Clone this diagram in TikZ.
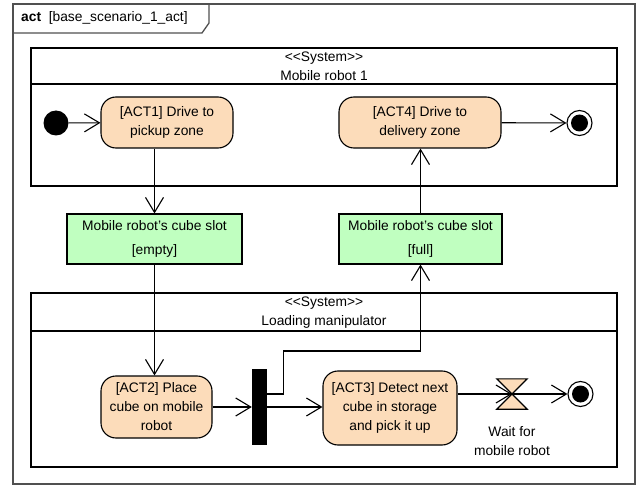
\documentclass[tikz,border=0pt]{standalone}
\usepackage{fontspec}
\setmainfont{Liberation Sans}
\usetikzlibrary{arrows.meta,calc}
\definecolor{peach}{RGB}{252,220,186}
\definecolor{objgreen}{RGB}{192,255,192}
\definecolor{framegray}{RGB}{80,80,80}
\begin{document}
\begin{tikzpicture}[x=1pt,y=-1pt,
  every node/.style={font=\fontsize{13.8}{19}\selectfont},
  action/.style={draw,line width=1.1pt,fill=peach,rounded corners=15pt,align=center,inner sep=0pt},
  objbox/.style={draw,line width=1.1pt,fill=objgreen,align=center,inner sep=0pt,minimum width=175pt,minimum height=50pt},
  partbox/.style={draw,line width=2.2pt},
  arr/.style={line width=1.1pt,-{Straight Barb[length=15pt,width=18pt,line width=1.1pt]}},
  initnode/.style={circle,fill=black,minimum size=25pt,inner sep=0pt},
  finalnode/.style={circle,draw,line width=1.1pt,fill=white,minimum size=25pt,inner sep=0pt,
     path picture={\fill[black] (path picture bounding box.center) circle[radius=8.5pt];}},
  barnode/.style={fill=black,minimum width=15pt,minimum height=76pt,inner sep=0pt},
  waitnode/.style={minimum width=30pt,minimum height=30pt,inner sep=0pt},
  plaintext/.style={align=center,inner sep=0pt}
]
\useasboundingbox (0,0) rectangle (641,487);
\fill[white] (0,0) rectangle (641,487);
% outer frame
\draw[framegray,line width=1.3pt] (13,4) rectangle (635,484);
\draw[framegray,line width=1.3pt] (13,33) -- (202,33) -- (209,23) -- (209,4);
\node[anchor=west,inner sep=0pt] (title) at (21,18) {\textbf{act}\ \ [base\_scenario\_1\_act]};

% partition: Mobile robot 1
\draw[partbox] (31,48) rectangle (617,186);
\draw[partbox] (31,84) -- (617,84);
\node[plaintext] (sys1) at (324,66) {<{}<System>{}>\\Mobile robot 1};

% partition: Loading manipulator
\draw[partbox] (31,293) rectangle (617,467);
\draw[partbox] (31,331) -- (617,331);
\node[plaintext] (sys2) at (324,313) {<{}<System>{}>\\Loading manipulator};

% nodes
\node[initnode] (init) at (56,123) {};
\node[action,minimum width=132pt,minimum height=51pt] (act1) at (167,122.5) {[ACT1] Drive to\\pickup zone};
\node[action,minimum width=162pt,minimum height=51pt] (act4) at (420,122.5) {[ACT4] Drive to\\delivery zone};
\node[finalnode] (final1) at (579.5,123) {};

\node[objbox] (empty) at (154.5,239) {Mobile robot's cube slot\\[5pt][empty]};
\node[objbox,minimum width=163pt] (full) at (420.5,239) {Mobile robot's cube slot\\[5pt][full]};

\node[action,minimum width=111pt,minimum height=62pt] (act2) at (156.5,407) {[ACT2] Place\\cube on mobile\\robot};
\node[barnode] (bar) at (259.5,407) {};
\node[action,minimum width=134pt,minimum height=74pt] (act3) at (390,408) {[ACT3] Detect next\\cube in storage\\and pick it up};
\node[waitnode] (wait) at (512,394) {};
\draw[line width=1.1pt,fill=peach] (wait.north west) -- (wait.north east) -- (wait.south west) -- (wait.south east) -- cycle;
\node[plaintext] (waitlabel) at (512,441) {Wait for\\mobile robot};
\node[finalnode] (final2) at (580.5,394) {};

% connectors
\draw[arr] (init) -- (act1);
\draw[arr] (act4) -- (final1);
\draw[arr] (act1.south -| empty.north) -- (empty.north);
\draw[arr] (empty.south) -- (empty.south |- act2.north);
\draw[arr] (full.north) -- (full.north |- act4.south);
\draw[arr] (act2.east |- bar.west) -- (bar.west);
\draw[arr] (bar.east) -- (bar.east -| act3.west);
\draw[arr] ($(bar.east)+(0,-13)$) -- ++(16,0) -- ++(0,-43) -| (full.south);
\draw[arr] (act3.east |- wait.center) -- (wait.center);
\draw[arr] (wait.center) -- (final2);
\end{tikzpicture}
\end{document}
